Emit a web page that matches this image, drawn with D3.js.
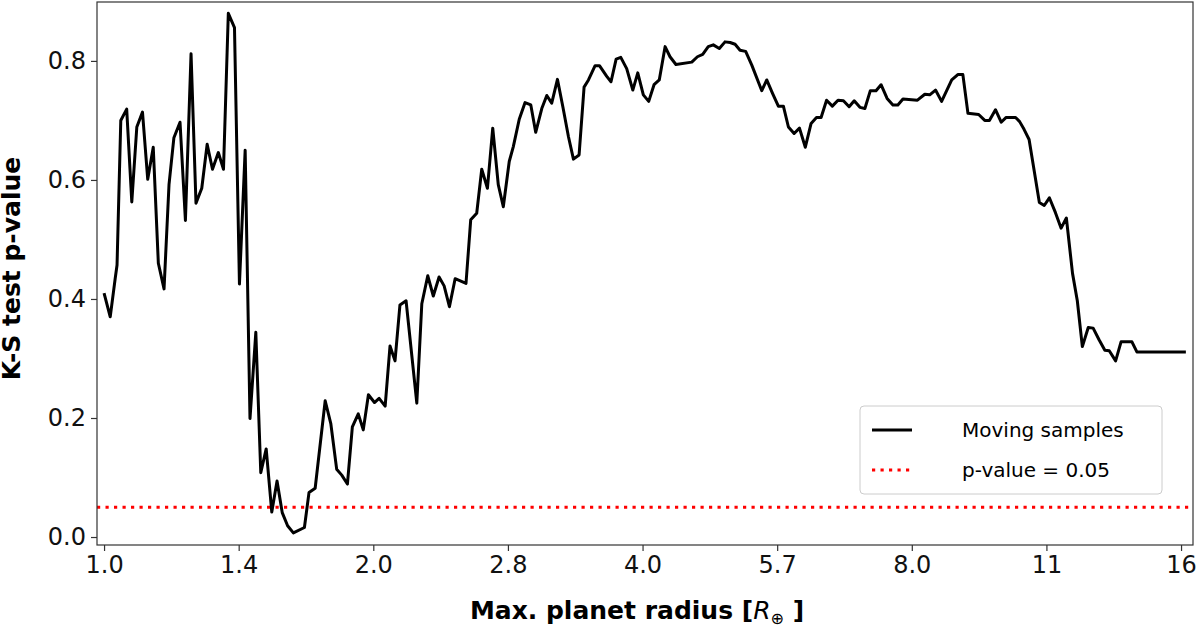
<!DOCTYPE html>
<html>
<head>
<meta charset="utf-8">
<script src="https://cdn.jsdelivr.net/npm/d3@7"></script>
<style>
  body { margin: 0; background: #fff; }
  text { font-family: "DejaVu Sans", sans-serif; }
</style>
</head>
<body>
<div id="chart"></div>
<script>
// Max. planet radius (R_earth) of the moving sample
let radius = [1.00,1.016,1.029,1.034,1.044,1.060,1.074,1.088,1.104,1.119,1.135,1.150,1.167,1.182,1.197,1.216,1.233,1.251,1.267,1.286,1.304,1.322,1.342,1.360,1.377,1.399,1.417,1.438,1.456,1.478,1.497,1.518,1.540,1.561,1.582,1.604,1.628,1.675,1.695,1.722,1.767,1.793,1.820,1.844,1.871,1.895,1.924,1.949,1.975,2.006,2.030,2.062,2.088,2.115,
  2.142,2.176,2.237,2.266,2.301,2.334,2.369,2.400,2.433,2.469,2.539,2.570,2.610,2.644,2.683,2.720,2.759,2.795,2.838,2.868,2.912,2.956,3.000,3.038,3.086,3.126,3.166,3.213,3.258,3.305,3.348,3.397,3.441,3.480,3.540,3.580,3.648,3.688,3.737,3.782,3.840,3.901,3.951,4.008,4.064,4.120,4.176,4.239,4.293,4.359,4.540,4.607,4.670,4.737,4.799,4.874,4.946,5.011,5.076,5.141,5.216,5.299,5.437,5.507,5.588,5.674,
  5.748,5.823,5.909,5.991,6.082,6.173,6.259,6.334,6.424,6.520,6.616,6.709,6.808,6.898,7.000,7.090,7.190,7.296,7.391,7.507,7.620,7.718,7.820,8.117,8.273,8.378,8.504,8.638,8.866,9.006,9.124,9.244,9.503,9.653,9.769,9.923,10.07,10.20,10.45,10.56,10.68,10.82,11.11,11.25,11.40,11.58,11.75,11.91,12.10,12.25,12.41,12.60,12.76,12.96,13.15,13.30,13.52,13.71,14.10,14.28,16.20];

// K-S test p-value
let pValue = [0.410,0.370,0.434,0.457,0.700,0.719,0.563,0.689,0.714,0.601,0.655,0.460,0.417,0.592,0.671,0.697,0.532,0.812,0.561,0.586,0.660,0.618,0.646,0.618,0.880,0.856,0.425,0.650,0.199,0.344,0.108,0.148,0.042,0.094,0.041,0.019,0.007,0.016,0.075,0.082,0.229,0.190,0.114,0.104,0.089,0.185,0.207,0.180,0.239,0.226,0.233,0.220,0.321,0.296,
  0.390,0.397,0.225,0.392,0.439,0.405,0.437,0.422,0.387,0.434,0.426,0.533,0.544,0.618,0.586,0.687,0.592,0.555,0.631,0.656,0.702,0.730,0.726,0.680,0.720,0.742,0.729,0.769,0.723,0.673,0.635,0.642,0.756,0.768,0.792,0.792,0.774,0.765,0.803,0.806,0.787,0.751,0.780,0.743,0.732,0.760,0.768,0.824,0.807,0.794,0.798,0.807,0.811,0.824,0.827,0.821,0.832,0.831,0.828,0.818,0.816,0.793,0.750,0.768,0.746,0.724,
  0.724,0.689,0.678,0.687,0.655,0.695,0.705,0.705,0.734,0.724,0.734,0.733,0.723,0.733,0.722,0.720,0.750,0.750,0.760,0.737,0.726,0.726,0.736,0.734,0.744,0.743,0.751,0.732,0.768,0.777,0.777,0.712,0.710,0.700,0.700,0.718,0.697,0.705,0.705,0.698,0.685,0.668,0.562,0.557,0.570,0.545,0.519,0.536,0.443,0.397,0.320,0.352,0.351,0.331,0.314,0.313,0.296,0.328,0.328,0.311,0.311];

let xTicks = [1, Math.SQRT2, 2, 2 * Math.SQRT2, 4, 4 * Math.SQRT2, 8, 8 * Math.SQRT2, 16];
let xTickLabels = ["1.0", "1.4", "2.0", "2.8", "4.0", "5.7", "8.0", "11", "16"];
let yTicks = [0, 0.2, 0.4, 0.6, 0.8];
let threshold = 0.05;

let data = radius.map((r, i) => ({r: r, p: pValue[i]}));

let margin = {top: 2, right: 7, bottom: 82, left: 97};
let width = 1200 - margin.left - margin.right;
let height = 627 - margin.top - margin.bottom;

let svg = d3.select("#chart").append("svg")
    .attr("width", 1200)
    .attr("height", 627)
    .append("g")
    .attr("transform", "translate(" + margin.left + "," + margin.top + ")");

let x = d3.scaleLog().base(2).domain([0.982, 16.5]).range([0, width]);
let y = d3.scaleLinear().domain([-0.0134, 0.899]).range([height, 0]);

let xAxis = d3.axisBottom(x).tickValues(xTicks)
    .tickFormat((d, i) => xTickLabels[i]).tickSize(6).tickPadding(5);
let yAxis = d3.axisLeft(y).tickValues(yTicks)
    .tickFormat(d3.format(".1f")).tickSize(6).tickPadding(5);

let gx = svg.append("g").attr("transform", "translate(0," + height + ")").call(xAxis);
let gy = svg.append("g").call(yAxis);
[gx, gy].forEach(g => {
    g.select(".domain").remove();
    g.selectAll("line").attr("stroke", "#333").attr("stroke-width", 1.2);
    g.selectAll("text").style("font-size", "24px").attr("fill", "#111");
});

// threshold line
svg.append("line")
    .attr("x1", 0).attr("x2", width)
    .attr("y1", y(threshold)).attr("y2", y(threshold))
    .attr("stroke", "#ff0000").attr("stroke-width", 3.2)
    .attr("stroke-dasharray", "3.2,5.3");

// data line
let line = d3.line().x(d => x(d.r)).y(d => y(d.p));
svg.append("path")
    .datum(data)
    .attr("fill", "none")
    .attr("stroke", "#000")
    .attr("stroke-width", 3)
    .attr("stroke-linejoin", "round")
    .attr("d", line);

// frame
svg.append("rect")
    .attr("width", width).attr("height", height)
    .attr("fill", "none").attr("stroke", "#333").attr("stroke-width", 1.2);

// legend
let lg = svg.append("g").attr("transform", "translate(" + (860 - margin.left) + "," + (406 - margin.top) + ")");
lg.append("rect").attr("width", 302).attr("height", 88).attr("rx", 4)
    .attr("fill", "#fff").attr("fill-opacity", 0.8).attr("stroke", "#ccc");
lg.append("line").attr("x1", 12).attr("x2", 52).attr("y1", 24).attr("y2", 24)
    .attr("stroke", "#000").attr("stroke-width", 3);
lg.append("line").attr("x1", 12).attr("x2", 52).attr("y1", 64).attr("y2", 64)
    .attr("stroke", "#ff0000").attr("stroke-width", 3.2).attr("stroke-dasharray", "3.2,5.3");
lg.append("text").attr("x", 102).attr("y", 31).style("font-size", "20px").text("Moving samples");
lg.append("text").attr("x", 102).attr("y", 71).style("font-size", "20px").text("p-value = 0.05");

// axis labels
let xl = svg.append("text")
    .attr("x", width / 2 - 8).attr("y", height + 74)
    .attr("text-anchor", "middle")
    .style("font-size", "25px").style("font-weight", "bold");
xl.append("tspan").text("Max. planet radius [");
xl.append("tspan").style("font-style", "italic").style("font-weight", "normal").text("R");
xl.append("tspan").style("font-size", "16px").style("font-weight", "normal").attr("dy", 5).text("⊕");
xl.append("tspan").attr("dy", -5).text(" ]");

svg.append("text")
    .attr("transform", "translate(-77," + (height / 2 - 5) + ") rotate(-90)")
    .attr("text-anchor", "middle")
    .style("font-size", "25px").style("font-weight", "bold")
    .text("K-S test p-value");
</script>
</body>
</html>
